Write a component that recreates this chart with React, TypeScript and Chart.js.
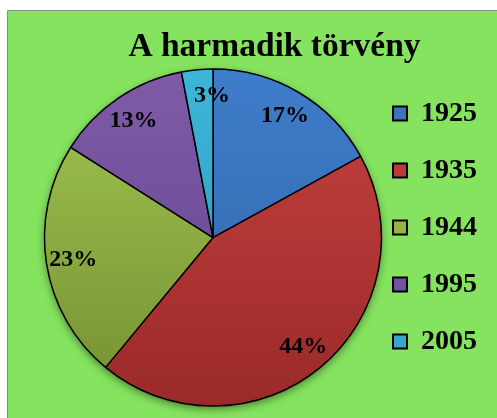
import { useEffect, useRef } from "react";
import { Chart, registerables } from "chart.js";

Chart.register(...registerables);

const TITLE = "A harmadik törvény";
const categories = ["1925", "1935", "1944", "1995", "2005"];
const values = [17, 44, 23, 13, 3];
const topColors = ["#3E7DCB", "#C64240", "#A3C651", "#7F5AA8", "#3DB6DA"];
const bottomColors = ["#3262A5", "#9A2A29", "#749031", "#62448A", "#2A94B8"];
const legendColors = ["#3A74BE", "#BC3B39", "#96B443", "#7253A0", "#36A8CE"];
const labelNudgeDeg = [0, 0, 0, 0, 5];

const FONT = "'Liberation Serif', 'Times New Roman', serif";
const GREEN = "#85E35F";
const PIE_RADIUS = 168.5;

const bgPlugin = {
  id: "bg",
  beforeDraw(chart: any) {
    const { ctx, width, height } = chart;
    ctx.save();
    ctx.fillStyle = "#ffffff";
    ctx.fillRect(0, 0, width, height);
    ctx.fillStyle = GREEN;
    ctx.fillRect(8, 11, width - 8, height - 11);
    ctx.strokeStyle = "#8a8a8a";
    ctx.lineWidth = 1;
    ctx.beginPath();
    ctx.moveTo(7.5, height);
    ctx.lineTo(7.5, 10.5);
    ctx.lineTo(width, 10.5);
    ctx.stroke();
    ctx.restore();
  },
};

const shadowPlugin = {
  id: "pieShadow",
  beforeDatasetsDraw(chart: any) {
    const meta = chart.getDatasetMeta(0);
    const arc = meta.data[0];
    if (!arc) return;
    const { x, y, outerRadius } = arc.getProps(["x", "y", "outerRadius"], true);
    const ctx = chart.ctx;
    ctx.save();
    ctx.shadowColor = "rgba(0,0,0,0.45)";
    ctx.shadowBlur = 8;
    ctx.shadowOffsetY = 3;
    ctx.fillStyle = "#333";
    ctx.beginPath();
    ctx.arc(x, y, outerRadius, 0, Math.PI * 2);
    ctx.fill();
    ctx.restore();
  },
};

const labelPlugin = {
  id: "pctLabels",
  afterDatasetsDraw(chart: any) {
    const meta = chart.getDatasetMeta(0);
    const data = chart.data.datasets[0].data as number[];
    const total = data.reduce((a, b) => a + b, 0);
    const ctx = chart.ctx;
    ctx.save();
    ctx.fillStyle = "#000";
    ctx.font = `bold 24px ${FONT}`;
    ctx.textAlign = "center";
    ctx.textBaseline = "middle";
    meta.data.forEach((arc: any, i: number) => {
      const { x, y, startAngle, endAngle, outerRadius } = arc.getProps(
        ["x", "y", "startAngle", "endAngle", "outerRadius"],
        true
      );
      const mid = (startAngle + endAngle) / 2 + (labelNudgeDeg[i] * Math.PI) / 180;
      const r = outerRadius * 0.84;
      const txt = Math.round((data[i] / total) * 100) + "%";
      ctx.fillText(txt, x + Math.cos(mid) * r, y + Math.sin(mid) * r);
    });
    ctx.restore();
  },
};

export default function App() {
  const ref = useRef<HTMLCanvasElement | null>(null);

  useEffect(() => {
    const canvas = ref.current;
    if (!canvas) return;
    const chart = new Chart(canvas, {
      type: "pie",
      data: {
        labels: categories,
        datasets: [
          {
            data: values,
            radius: PIE_RADIUS,
            backgroundColor: (c: any) => {
              const i = c.dataIndex ?? 0;
              const ch = c.chart;
              const a = ch.chartArea;
              if (!a) return legendColors[i];
              const cy = (a.top + a.bottom) / 2;
              const g = ch.ctx.createLinearGradient(0, cy - PIE_RADIUS, 0, cy + PIE_RADIUS);
              g.addColorStop(0, topColors[i]);
              g.addColorStop(1, bottomColors[i]);
              return g;
            },
            borderColor: "#000000",
            borderWidth: 1.5,
          } as any,
        ],
      },
      options: {
        responsive: false,
        animation: false,
        devicePixelRatio: 1,
        layout: { padding: { left: 62, right: 10, top: 37, bottom: 0 } },
        plugins: {
          title: {
            display: true,
            text: TITLE,
            color: "#000000",
            font: { family: FONT, size: 33.5, weight: "bold", lineHeight: 0.6 },
            padding: 0,
          },
          legend: {
            position: "right",
            align: "center",
            labels: {
              font: { family: FONT, size: 28, weight: "bold" },
              color: "#000000",
              boxWidth: 14,
              boxHeight: 14,
              padding: 29,
              generateLabels: () =>
                categories.map((c, i) => ({
                  text: c,
                  fillStyle: legendColors[i],
                  strokeStyle: "#000000",
                  lineWidth: 2,
                  hidden: false,
                  index: i,
                  datasetIndex: 0,
                })),
            },
          },
          tooltip: { enabled: false },
        },
      } as any,
      plugins: [bgPlugin, shadowPlugin, labelPlugin],
    });
    return () => chart.destroy();
  }, []);

  return (
    <div style={{ position: "fixed", left: 0, top: 0, width: 497, height: 418 }}>
      <canvas ref={ref} width={497} height={418} style={{ display: "block" }} />
    </div>
  );
}
